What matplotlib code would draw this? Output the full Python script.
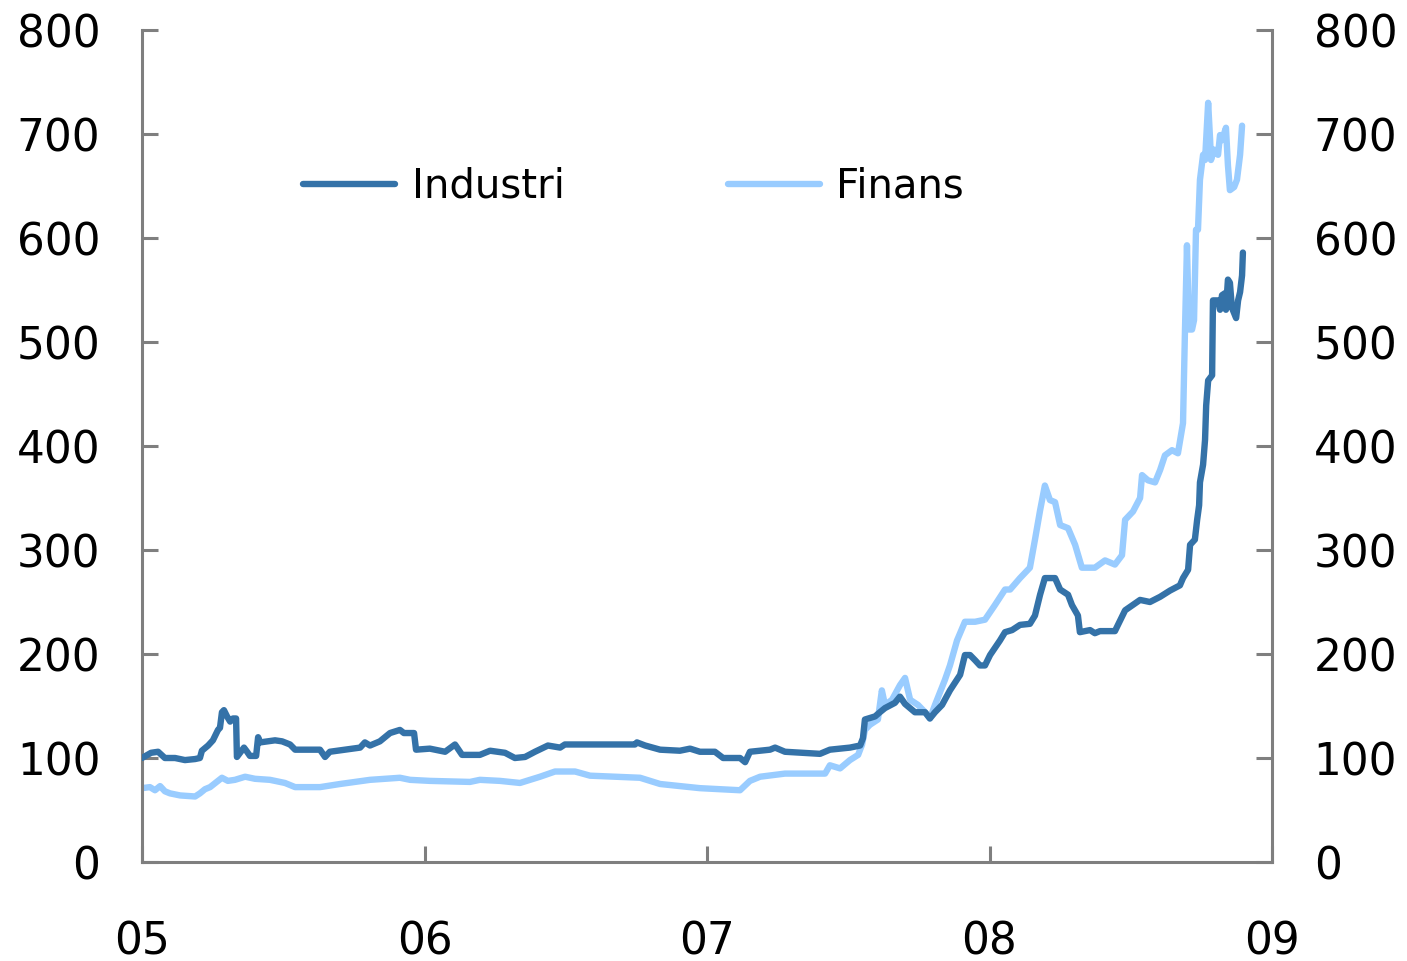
import matplotlib
matplotlib.use("Agg")
import matplotlib.pyplot as plt

# Decimal-year positions and index values
industri_t = [2005.000, 2005.032, 2005.057, 2005.081, 2005.117, 2005.152, 2005.188, 2005.205,
              2005.212, 2005.234, 2005.251, 2005.269, 2005.276, 2005.283, 2005.290, 2005.301,
              2005.312, 2005.322, 2005.333, 2005.336, 2005.350, 2005.361, 2005.372, 2005.382,
              2005.404, 2005.411, 2005.418, 2005.471, 2005.496, 2005.524, 2005.542, 2005.630,
              2005.648, 2005.665, 2005.772, 2005.789, 2005.807, 2005.842, 2005.878, 2005.913,
              2005.927, 2005.963, 2005.970, 2006.019, 2006.073, 2006.108, 2006.133, 2006.196,
              2006.232, 2006.285, 2006.320, 2006.356, 2006.391, 2006.437, 2006.480, 2006.497,
              2006.745, 2006.752, 2006.781, 2006.834, 2006.904, 2006.940, 2006.975, 2007.028,
              2007.057, 2007.117, 2007.135, 2007.152, 2007.223, 2007.241, 2007.276, 2007.400,
              2007.435, 2007.506, 2007.542, 2007.552, 2007.559, 2007.595, 2007.612, 2007.630,
              2007.665, 2007.683, 2007.701, 2007.736, 2007.772, 2007.789, 2007.807, 2007.832,
              2007.860, 2007.896, 2007.913, 2007.931, 2007.949, 2007.966, 2007.984, 2008.002,
              2008.037, 2008.055, 2008.080, 2008.108, 2008.143, 2008.161, 2008.179, 2008.196,
              2008.232, 2008.250, 2008.278, 2008.292, 2008.313, 2008.320, 2008.356, 2008.373,
              2008.391, 2008.444, 2008.480, 2008.533, 2008.568, 2008.604, 2008.639, 2008.674,
              2008.685, 2008.703, 2008.710, 2008.727, 2008.735, 2008.742, 2008.745, 2008.756,
              2008.763, 2008.767, 2008.774, 2008.788, 2008.791, 2008.809, 2008.816, 2008.823,
              2008.834, 2008.837, 2008.844, 2008.851, 2008.858, 2008.873, 2008.880, 2008.887,
              2008.894, 2008.897]
industri_v = [100, 105, 106, 100, 100, 98, 99, 100,
              107, 112, 117, 127, 129, 144, 146, 140,
              135, 138, 138, 101, 106, 110, 106, 102,
              102, 120, 115, 117, 116, 113, 108, 108,
              101, 106, 110, 115, 112, 116, 124, 127,
              124, 124, 108, 109, 106, 113, 103, 103,
              107, 105, 100, 101, 106, 112, 110, 113,
              113, 115, 112, 108, 107, 109, 106, 106,
              100, 100, 96, 106, 108, 110, 106, 104,
              108, 110, 112, 119, 137, 140, 144, 148,
              153, 159, 152, 144, 144, 138, 144, 151,
              165, 180, 199, 199, 194, 189, 189, 199,
              213, 221, 223, 228, 229, 237, 257, 273,
              273, 262, 257, 247, 237, 221, 223, 220,
              222, 222, 242, 252, 250, 255, 261, 266,
              273, 281, 305, 310, 329, 343, 365, 382,
              406, 439, 463, 468, 540, 540, 531, 545,
              547, 531, 560, 557, 533, 523, 540, 548,
              564, 586]

finans_t = [2005.000, 2005.028, 2005.046, 2005.064, 2005.081, 2005.099, 2005.135, 2005.188,
            2005.205, 2005.223, 2005.241, 2005.269, 2005.283, 2005.304, 2005.329, 2005.365,
            2005.400, 2005.453, 2005.506, 2005.542, 2005.630, 2005.701, 2005.807, 2005.913,
            2005.949, 2006.019, 2006.161, 2006.196, 2006.267, 2006.338, 2006.409, 2006.462,
            2006.533, 2006.586, 2006.763, 2006.834, 2006.904, 2006.975, 2007.046, 2007.117,
            2007.152, 2007.188, 2007.276, 2007.418, 2007.435, 2007.471, 2007.506, 2007.535,
            2007.549, 2007.559, 2007.577, 2007.605, 2007.619, 2007.630, 2007.655, 2007.683,
            2007.701, 2007.719, 2007.747, 2007.772, 2007.789, 2007.807, 2007.842, 2007.860,
            2007.885, 2007.913, 2007.949, 2007.984, 2008.019, 2008.055, 2008.073, 2008.108,
            2008.143, 2008.161, 2008.179, 2008.196, 2008.214, 2008.232, 2008.250, 2008.278,
            2008.303, 2008.327, 2008.373, 2008.409, 2008.444, 2008.469, 2008.480, 2008.508,
            2008.533, 2008.540, 2008.561, 2008.586, 2008.604, 2008.621, 2008.646, 2008.667,
            2008.685, 2008.692, 2008.699, 2008.706, 2008.717, 2008.724, 2008.731, 2008.738,
            2008.745, 2008.756, 2008.763, 2008.774, 2008.781, 2008.784, 2008.795, 2008.809,
            2008.816, 2008.823, 2008.837, 2008.844, 2008.851, 2008.866, 2008.876, 2008.887,
            2008.894]
finans_v = [71, 72, 69, 73, 68, 66, 64, 63,
            66, 70, 72, 78, 81, 78, 79, 82,
            80, 79, 76, 72, 72, 75, 79, 81,
            79, 78, 77, 79, 78, 76, 82, 87,
            87, 83, 81, 75, 73, 71, 70, 69,
            78, 82, 85, 85, 93, 90, 98, 103,
            113, 127, 132, 137, 165, 151, 156, 170,
            177, 156, 151, 144, 138, 151, 175, 189,
            213, 231, 231, 233, 247, 262, 262, 273,
            283, 310, 338, 362, 348, 346, 324, 321,
            305, 283, 283, 290, 286, 295, 329, 337,
            350, 372, 367, 365, 377, 391, 396, 393,
            422, 512, 593, 512, 512, 521, 608, 608,
            656, 680, 675, 730, 694, 675, 685, 680,
            699, 694, 706, 670, 646, 649, 656, 680,
            708]

x_ticks = [2005, 2006, 2007, 2008, 2009]
x_labels = ["05", "06", "07", "08", "09"]
y_ticks = [0, 100, 200, 300, 400, 500, 600, 700, 800]

plt.rcParams['font.family'] = ['DejaVu Sans']

fig = plt.figure(figsize=(14.07, 9.61), dpi=100)
ax = fig.add_axes([142/1407, 1 - 862/961, (1272 - 142)/1407, (862 - 30)/961])

dark = "#3472A8"
light = "#99CCFF"
ax.plot(industri_t, industri_v, color=dark, lw=4.6, label="Industri",
        solid_joinstyle='round', solid_capstyle='round', zorder=3)
ax.plot(finans_t, finans_v, color=light, lw=4.6, label="Finans",
        solid_joinstyle='round', solid_capstyle='round', zorder=2)

ax.set_xlim(2005, 2009)
ax.set_ylim(0, 800)
ax.set_xticks(x_ticks)
ax.set_xticklabels(x_labels)
ax.set_yticks(y_ticks)

spine_col = "#7f7f7f"
for s in ["left", "right", "bottom"]:
    ax.spines[s].set_color(spine_col)
    ax.spines[s].set_linewidth(2.2)
ax.spines["top"].set_visible(False)

ax.tick_params(axis='y', direction='in', length=11.5, width=2.2, color=spine_col,
               labelsize=31.5, pad=30, left=True, right=True, labelleft=True, labelright=True)
ax.tick_params(axis='x', direction='in', length=11.5, width=2.2, color=spine_col,
               labelsize=31.5, pad=42)

leg = ax.legend(loc='center left', bbox_to_anchor=((303 - 142)/1130, (862 - 187)/832),
                ncol=2, frameon=False, fontsize=29, handlelength=2.28,
                handletextpad=0.42, columnspacing=4.05, borderpad=0, borderaxespad=0)

fig.savefig("out.png", dpi=100)
